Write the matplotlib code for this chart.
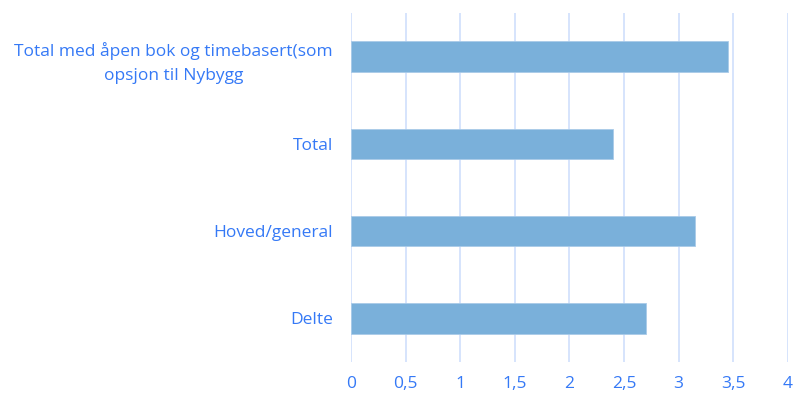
import matplotlib
matplotlib.use("Agg")
import matplotlib.pyplot as plt
import numpy as np

categories = ["Total med åpen bok og timebasert(som\nopsjon til Nybygg",
              "Total",
              "Hoved/general",
              "Delte"]
values = [3.45, 2.4, 3.15, 2.7]
xticks = [0, 0.5, 1, 1.5, 2, 2.5, 3, 3.5, 4]
xticklabels = ["0", "0,5", "1", "1,5", "2", "2,5", "3", "3,5", "4"]

text_color = "#3579F6"
bar_color = "#7AB0DA"
grid_color = "#CCDDFC"

plt.rcParams['font.family'] = ['Open Sans', 'DejaVu Sans']

fig = plt.figure(figsize = (7.95, 3.98), dpi = 100)
ax = fig.add_axes([0.4415, 0.0905, 0.5495, 0.8765])

ypos = np.arange(len(categories))
ax.barh(ypos, values, height = 0.35, color = bar_color, edgecolor = "#A9CBE8", linewidth = 0.6, zorder = 3)
ax.set_ylim(len(categories) - 0.5, -0.5)
ax.set_xlim(0, 4)
ax.set_yticks(ypos)
ax.set_yticklabels(categories, ha = "right", multialignment = "center", linespacing = 1.65)
ax.set_xticks(xticks)
ax.set_xticklabels(xticklabels)

for x in xticks:
    ax.axvline(x, color = grid_color, linewidth = 1.1, zorder = 1)

for s in ax.spines.values():
    s.set_visible(False)
ax.tick_params(axis = "both", length = 0, colors = text_color, labelsize = 12.5)
ax.tick_params(axis = "y", pad = 13)
ax.tick_params(axis = "x", pad = 10)

fig.savefig("out.png", dpi = 100)
